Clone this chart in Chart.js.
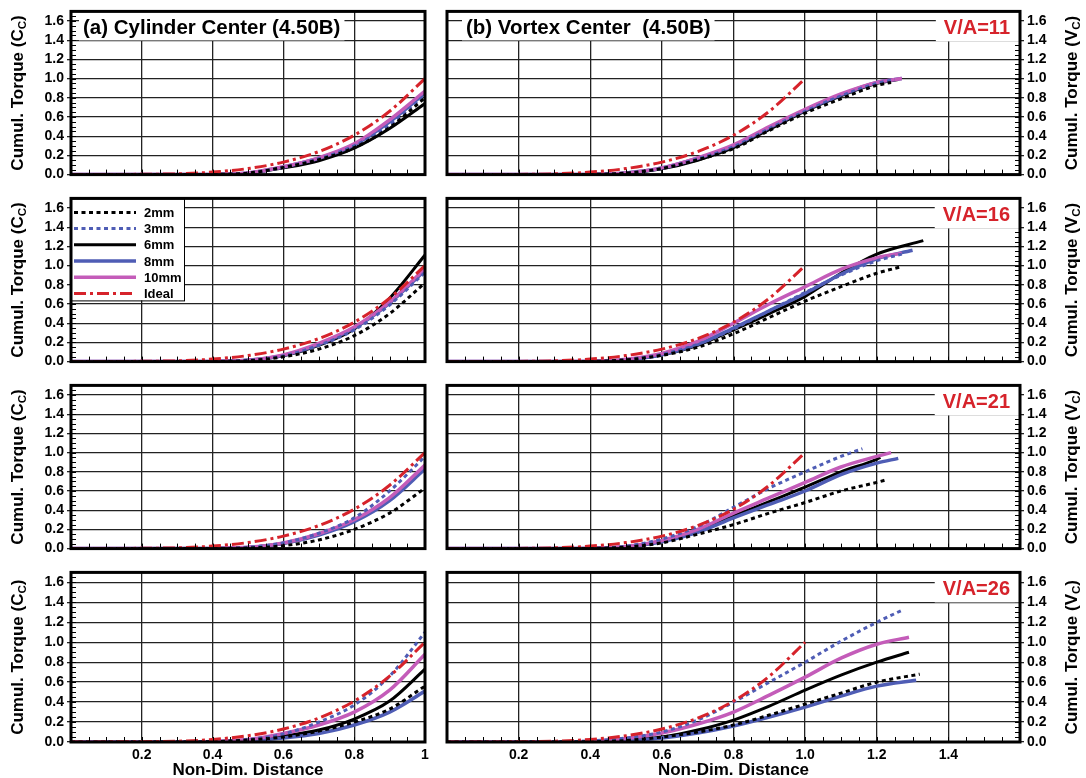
<!DOCTYPE html>
<html><head><meta charset="utf-8">
<script src="https://cdn.jsdelivr.net/npm/chart.js@4.4.0/dist/chart.umd.min.js"></script>
<style>
html,body{margin:0;padding:0;background:#fff;width:1086px;height:778px;overflow:hidden;position:relative;}
canvas{position:absolute;}
</style></head><body>
<script>
// ---------- DATA ----------
const seriesLabels = ['2mm', '3mm', '6mm', '8mm', '10mm', 'Ideal'];
const velocityRatios = ['V/A=11', 'V/A=16', 'V/A=21', 'V/A=26'];
const yTickLabels = ['0.0', '0.2', '0.4', '0.6', '0.8', '1.0', '1.2', '1.4', '1.6'];
const cylXTickLabels = ['', '0.2', '0.4', '0.6', '0.8', '1'];
const vorXTickLabels = ['', '0.2', '0.4', '0.6', '0.8', '1.0', '1.2', '1.4', ''];

// (a) Cylinder center: shared x positions
const cylX = [0, 0.3, 0.4, 0.5, 0.6, 0.7, 0.8, 0.9, 1.0];
const cylIdeal = [0, 0.008, 0.026, 0.063, 0.13, 0.24, 0.41, 0.66, 1.0];
// V/A=11
const cyl11_2mm  = [0, 0, 0.002, 0.015, 0.075, 0.155, 0.28, 0.49, 0.80];
const cyl11_3mm  = [0, 0, 0.002, 0.016, 0.078, 0.165, 0.30, 0.52, 0.83];
const cyl11_6mm  = [0, 0, 0.002, 0.015, 0.070, 0.145, 0.275, 0.48, 0.74];
const cyl11_8mm  = [0, 0, 0.002, 0.017, 0.080, 0.17, 0.31, 0.55, 0.85];
const cyl11_10mm = [0, 0, 0.002, 0.018, 0.082, 0.175, 0.32, 0.57, 0.87];
// V/A=16
const cyl16_2mm  = [0, 0, 0.001, 0.010, 0.050, 0.13, 0.27, 0.50, 0.82];
const cyl16_3mm  = [0, 0, 0.002, 0.014, 0.060, 0.17, 0.33, 0.59, 0.93];
const cyl16_6mm  = [0, 0, 0.002, 0.013, 0.060, 0.17, 0.34, 0.66, 1.11];
const cyl16_8mm  = [0, 0, 0.002, 0.014, 0.065, 0.18, 0.35, 0.61, 0.95];
const cyl16_10mm = [0, 0, 0.002, 0.015, 0.070, 0.19, 0.36, 0.62, 0.97];
// V/A=21
const cyl21_2mm  = [0, 0, 0.001, 0.006, 0.030, 0.09, 0.20, 0.37, 0.63];
const cyl21_3mm  = [0, 0, 0.002, 0.013, 0.060, 0.16, 0.32, 0.60, 0.96];
const cyl21_6mm  = [0, 0, 0.002, 0.012, 0.055, 0.15, 0.29, 0.52, 0.85];
const cyl21_8mm  = [0, 0, 0.002, 0.011, 0.052, 0.14, 0.28, 0.50, 0.83];
const cyl21_10mm = [0, 0, 0.002, 0.013, 0.058, 0.155, 0.30, 0.53, 0.87];
// V/A=26
const cyl26_2mm  = [0, 0, 0.003, 0.020, 0.050, 0.11, 0.20, 0.33, 0.56];
const cyl26_3mm  = [0, 0, 0.004, 0.025, 0.080, 0.20, 0.37, 0.66, 1.10];
const cyl26_6mm  = [0, 0, 0.003, 0.020, 0.060, 0.12, 0.23, 0.41, 0.73];
const cyl26_8mm  = [0, 0, 0.002, 0.015, 0.040, 0.085, 0.17, 0.30, 0.51];
const cyl26_10mm = [0, 0, 0.004, 0.025, 0.085, 0.17, 0.30, 0.52, 0.88];

// (b) Vortex center: shared x positions, plus each curve's end point
const vorX = [0, 0.3, 0.4, 0.5, 0.6, 0.7, 0.8, 0.9, 1.0, 1.1, 1.2];
const vorIdealX = [0, 0.2, 0.3, 0.4, 0.5, 0.6, 0.7, 0.8, 0.9, 1.0];
const vorIdeal  = [0, 0.002, 0.008, 0.026, 0.063, 0.13, 0.24, 0.41, 0.66, 1.0];
// V/A=11
const vor11_2mm  = [0, 0, 0.002, 0.015, 0.063, 0.155, 0.27, 0.46, 0.64, 0.79, 0.93];
const vor11_3mm  = [0, 0, 0.002, 0.016, 0.066, 0.165, 0.29, 0.48, 0.66, 0.82, 0.95];
const vor11_6mm  = [0, 0, 0.002, 0.014, 0.060, 0.15, 0.28, 0.47, 0.66, 0.82, 0.95];
const vor11_8mm  = [0, 0, 0.002, 0.017, 0.068, 0.17, 0.30, 0.49, 0.67, 0.83, 0.96];
const vor11_10mm = [0, 0, 0.002, 0.018, 0.070, 0.175, 0.31, 0.50, 0.68, 0.84, 0.96];
const vor11_ends = [[1.24, 0.96], [1.25, 0.99], [1.26, 0.99], [1.27, 1.0], [1.27, 1.0]];
// V/A=16
const vor16_2mm  = [0, 0, 0.002, 0.018, 0.065, 0.15, 0.29, 0.46, 0.63, 0.78, 0.92];
const vor16_3mm  = [0, 0, 0.002, 0.020, 0.075, 0.18, 0.34, 0.53, 0.72, 0.90, 1.05];
const vor16_6mm  = [0, 0, 0.002, 0.020, 0.070, 0.17, 0.33, 0.50, 0.68, 0.92, 1.12];
const vor16_8mm  = [0, 0, 0.002, 0.020, 0.072, 0.18, 0.35, 0.53, 0.71, 0.91, 1.07];
const vor16_10mm = [0, 0, 0.003, 0.025, 0.085, 0.21, 0.40, 0.60, 0.78, 0.96, 1.08];
const vor16_ends = [[1.27, 0.99], [1.27, 1.12], [1.33, 1.26], [1.30, 1.16], [1.27, 1.13]];
// V/A=21
const vor21_2mm  = [0, 0, 0.002, 0.015, 0.060, 0.15, 0.25, 0.37, 0.48, 0.60, 0.69];
const vor21_3mm  = [0, 0, 0.003, 0.025, 0.100, 0.23, 0.43, 0.63, 0.80, 0.96, null];
const vor21_6mm  = [0, 0, 0.002, 0.020, 0.080, 0.19, 0.34, 0.49, 0.64, 0.80, 0.93];
const vor21_8mm  = [0, 0, 0.002, 0.018, 0.070, 0.17, 0.32, 0.46, 0.60, 0.77, 0.89];
const vor21_10mm = [0, 0, 0.003, 0.022, 0.085, 0.20, 0.37, 0.53, 0.69, 0.85, 0.96];
const vor21_ends = [[1.23, 0.72], [1.16, 1.04], [1.21, 0.95], [1.26, 0.94], [1.24, 1.0]];
// V/A=26
const vor26_2mm  = [0, 0, 0.002, 0.015, 0.050, 0.10, 0.17, 0.27, 0.38, 0.49, 0.60];
const vor26_3mm  = [0, 0.002, 0.010, 0.040, 0.100, 0.22, 0.40, 0.60, 0.80, 1.01, 1.20];
const vor26_6mm  = [0, 0, 0.003, 0.020, 0.050, 0.12, 0.22, 0.36, 0.52, 0.67, 0.80];
const vor26_8mm  = [0, 0, 0.002, 0.012, 0.040, 0.09, 0.16, 0.25, 0.35, 0.46, 0.56];
const vor26_10mm = [0, 0.002, 0.008, 0.035, 0.090, 0.18, 0.30, 0.47, 0.65, 0.84, 0.98];
const vor26_ends = [[1.32, 0.68], [1.27, 1.32], [1.29, 0.90], [1.31, 0.62], [1.29, 1.05]];

// ---------- STYLE ----------
const FONT = "'Liberation Sans', Arial, Helvetica, sans-serif";
const C_BLACK = '#000000', C_BLUE = '#4f5db5', C_PINK = '#c45cb9', C_RED = '#d6232b';
const GRID = '#222222';
const styles = [
  {color: C_BLACK, dash: [4, 3.5], width: 3, order: 1},
  {color: C_BLUE,  dash: [4, 3.5], width: 3, order: 2},
  {color: C_BLACK, dash: [],       width: 3, order: 5},
  {color: C_BLUE,  dash: [],       width: 3.5, order: 4},
  {color: C_PINK,  dash: [],       width: 3.5, order: 3},
  {color: C_RED,   dash: [12, 4, 3, 4], width: 3, order: 0}
];

function pts(xs, ys, end) {
  const out = [];
  xs.forEach((x, i) => { if (ys[i] !== null && ys[i] !== undefined) out.push({x: x, y: ys[i]}); });
  if (end) out.push({x: end[0], y: end[1]});
  return out;
}
function mkDatasets(list) {
  return list.map((d, i) => ({
    label: seriesLabels[i], data: d,
    borderColor: styles[i].color, backgroundColor: styles[i].color,
    borderWidth: styles[i].width, borderDash: styles[i].dash,
    pointRadius: 0, fill: false, cubicInterpolationMode: 'monotone',
    order: styles[i].order, borderCapStyle: 'butt'
  }));
}

const cylSets = [
  [cyl11_2mm, cyl11_3mm, cyl11_6mm, cyl11_8mm, cyl11_10mm],
  [cyl16_2mm, cyl16_3mm, cyl16_6mm, cyl16_8mm, cyl16_10mm],
  [cyl21_2mm, cyl21_3mm, cyl21_6mm, cyl21_8mm, cyl21_10mm],
  [cyl26_2mm, cyl26_3mm, cyl26_6mm, cyl26_8mm, cyl26_10mm]
];
const vorSets = [
  [vor11_2mm, vor11_3mm, vor11_6mm, vor11_8mm, vor11_10mm],
  [vor16_2mm, vor16_3mm, vor16_6mm, vor16_8mm, vor16_10mm],
  [vor21_2mm, vor21_3mm, vor21_6mm, vor21_8mm, vor21_10mm],
  [vor26_2mm, vor26_3mm, vor26_6mm, vor26_8mm, vor26_10mm]
];
const vorEnds = [vor11_ends, vor16_ends, vor21_ends, vor26_ends];

// ---------- LAYOUT ----------
const rowTops = [10, 197, 384, 571];
const plotH = 171;

function drawAxisTitle(ctx, cx, cy, main, sub) {
  ctx.save();
  ctx.translate(cx, cy);
  ctx.rotate(-Math.PI / 2);
  ctx.fillStyle = '#000';
  ctx.textBaseline = 'middle';
  ctx.textAlign = 'left';
  const f1 = 'bold 17px ' + FONT, f2 = 'bold 11.5px ' + FONT;
  ctx.font = f1; const w1 = ctx.measureText(main).width; const w3 = ctx.measureText(')').width;
  ctx.font = f2; const w2 = ctx.measureText(sub).width;
  let x = -(w1 + w2 + w3) / 2;
  ctx.font = f1; ctx.fillText(main, x, 0); x += w1;
  ctx.font = f2; ctx.fillText(sub, x, 5); x += w2;
  ctx.font = f1; ctx.fillText(')', x, 0);
  ctx.restore();
}

const decoPlugin = {
  id: 'deco',
  afterDraw(chart) {
    const o = chart.options.plugins.deco;
    const ctx = chart.ctx, a = chart.chartArea;
    const xs = chart.scales.x, ys = chart.scales.y;
    ctx.save();
    // minor ticks
    ctx.strokeStyle = '#000'; ctx.lineWidth = 1;
    ctx.beginPath();
    for (let v = 0.05; v < xs.max - 0.001; v += 0.05) {
      const px = Math.round(xs.getPixelForValue(v)) + 0.5;
      ctx.moveTo(px, a.bottom); ctx.lineTo(px, a.bottom - 5);
    }
    for (let v = 0.05; v < ys.max - 0.001; v += 0.05) {
      const py = Math.round(ys.getPixelForValue(v)) + 0.5;
      if (o.left) { ctx.moveTo(a.left, py); ctx.lineTo(a.left + 5, py); }
      else { ctx.moveTo(a.right, py); ctx.lineTo(a.right - 5, py); }
    }
    ctx.stroke();
    // title box
    if (o.title) {
      ctx.font = 'bold 20.5px ' + FONT;
      const w = ctx.measureText(o.title).width;
      ctx.fillStyle = '#fff';
      ctx.fillRect(a.left + o.titleX - 4, a.top, w + 8, 29);
      ctx.fillStyle = '#000'; ctx.textBaseline = 'middle'; ctx.textAlign = 'left';
      ctx.fillText(o.title, a.left + o.titleX, a.top + 17);
    }
    if (o.va) {
      ctx.font = 'bold 20px ' + FONT;
      const w = ctx.measureText(o.va).width;
      ctx.fillStyle = '#fff';
      ctx.fillRect(a.right - w - 18, a.top, w + 18, 30);
      ctx.fillStyle = C_RED; ctx.textBaseline = 'middle'; ctx.textAlign = 'right';
      ctx.fillText(o.va, a.right - 10, a.top + 17);
    }
    // legend
    if (o.legend) {
      const lx = a.left, ly = a.top, lw = 113, lh = 102;
      ctx.fillStyle = '#fff'; ctx.fillRect(lx, ly, lw, lh);
      ctx.strokeStyle = '#000'; ctx.lineWidth = 1;
      ctx.strokeRect(lx + 0.5, ly + 0.5, lw, lh);
      chart.data.datasets.forEach((ds, i) => {
        const yy = ly + 14 + i * 16.2;
        ctx.strokeStyle = ds.borderColor; ctx.lineWidth = ds.borderWidth;
        ctx.setLineDash(ds.borderDash); ctx.lineCap = 'butt';
        ctx.beginPath(); ctx.moveTo(lx + 3, yy); ctx.lineTo(lx + 65, yy); ctx.stroke();
        ctx.setLineDash([]);
        ctx.fillStyle = '#000'; ctx.font = 'bold 13px ' + FONT;
        ctx.textAlign = 'left'; ctx.textBaseline = 'middle';
        ctx.fillText(ds.label, lx + 73, yy + 1);
      });
    }
    // frame
    ctx.strokeStyle = '#000'; ctx.lineWidth = 3; ctx.setLineDash([]);
    ctx.strokeRect(a.left, a.top, a.right - a.left, a.bottom - a.top);
    // axis titles
    if (o.left) drawAxisTitle(ctx, 18, (a.top + a.bottom) / 2, 'Cumul. Torque (C', 'C');
    else drawAxisTitle(ctx, a.right + 52, (a.top + a.bottom) / 2, 'Cumul. Torque (V', 'C');
    if (o.xTitle) {
      ctx.fillStyle = '#000'; ctx.font = 'bold 17px ' + FONT;
      ctx.textAlign = 'center'; ctx.textBaseline = 'middle';
      ctx.fillText('Non-Dim. Distance', (a.left + a.right) / 2, a.bottom + 28);
    }
    ctx.restore();
  }
};

function makePanel(isLeft, row) {
  const bottomH = row === 3 ? 38 : 5;
  const W = isLeft ? 440 : 646;
  const H = 10 + plotH + bottomH;
  const cv = document.createElement('canvas');
  cv.width = W; cv.height = H;
  cv.style.left = (isLeft ? 0 : 440) + 'px';
  cv.style.top = (rowTops[row] - 10) + 'px';
  cv.style.width = W + 'px'; cv.style.height = H + 'px';
  document.body.appendChild(cv);

  let lines;
  if (isLeft) {
    lines = cylSets[row].map(ys => pts(cylX, ys));
    lines.push(pts(cylX, cylIdeal));
  } else {
    lines = vorSets[row].map((ys, i) => pts(vorX, ys, vorEnds[row][i]));
    lines.push(pts(vorIdealX, vorIdeal));
  }
  const xLabels = isLeft ? cylXTickLabels : vorXTickLabels;
  const tickFont = {family: FONT, size: 14, weight: 'bold'};

  new Chart(cv, {
    type: 'line',
    data: {datasets: mkDatasets(lines)},
    options: {
      responsive: false, maintainAspectRatio: false, animation: false,
      layout: {autoPadding: false, padding: {top: 10, bottom: 0, left: isLeft ? 0 : 7, right: isLeft ? 15 : 0}},
      plugins: {
        legend: {display: false}, tooltip: {enabled: false},
        deco: {
          left: isLeft, legend: isLeft && row === 1, xTitle: row === 3,
          title: row === 0 ? (isLeft ? '(a) Cylinder Center (4.50B)' : '(b) Vortex Center  (4.50B)') : null,
          titleX: isLeft ? 12 : 19,
          va: isLeft ? null : velocityRatios[row]
        }
      },
      scales: {
        x: {
          type: 'linear', min: 0, max: isLeft ? 1 : 1.6,
          afterFit: s => { s.height = bottomH; },
          ticks: {display: row === 3, stepSize: 0.2, autoSkip: false, maxRotation: 0, padding: 5,
                  color: '#000', font: tickFont, callback: (v, i) => xLabels[i]},
          grid: {color: GRID, lineWidth: 1.3, drawTicks: false},
          border: {display: false}
        },
        y: {
          type: 'linear', position: isLeft ? 'left' : 'right', min: 0, max: 1.7,
          afterFit: s => { s.width = isLeft ? 71 : 66; },
          ticks: {stepSize: 0.2, includeBounds: false, padding: 3, color: '#000', font: tickFont,
                  callback: (v, i) => yTickLabels[i]},
          grid: {color: GRID, lineWidth: 1.3, tickLength: 4},
          border: {display: false}
        }
      }
    },
    plugins: [decoPlugin]
  });
}

for (let r = 0; r < 4; r++) { makePanel(true, r); makePanel(false, r); }
</script>
</body></html>
